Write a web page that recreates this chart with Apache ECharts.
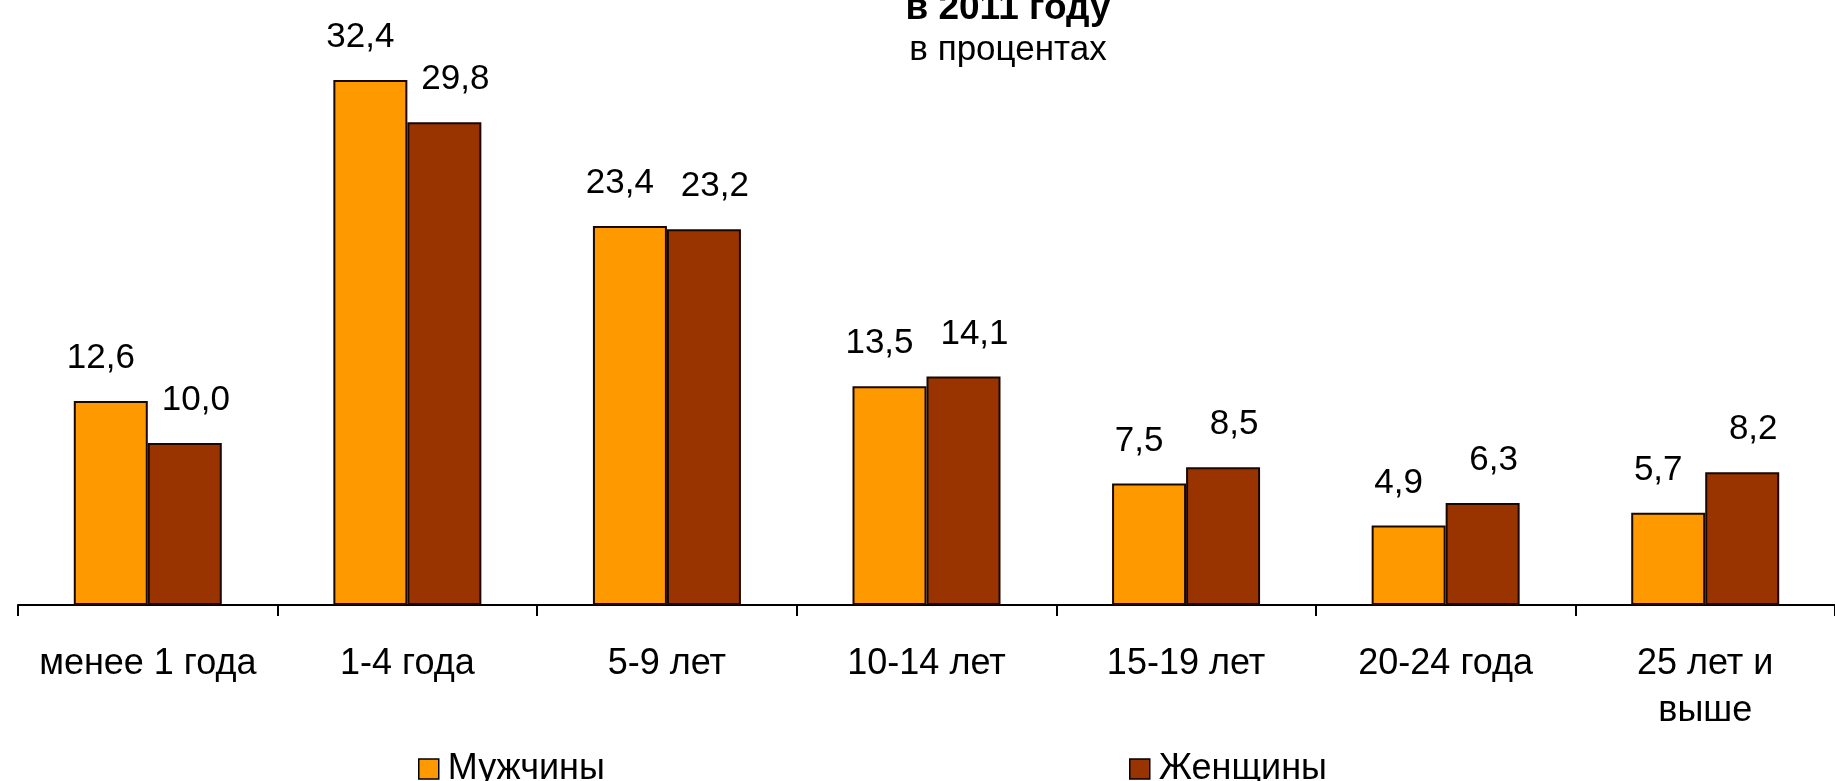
<!DOCTYPE html>
<html><head><meta charset="utf-8">
<script src="https://cdn.jsdelivr.net/npm/echarts@6/dist/echarts.min.js"></script>
<style>html,body{margin:0;padding:0;background:#fff}#c{width:1835px;height:781px}</style>
</head><body><div id="c"></div>
<script>
const categories = ['менее 1 года', '1-4 года', '5-9 лет', '10-14 лет', '15-19 лет', '20-24 года', '25 лет и\nвыше'];
const men = [12.6, 32.4, 23.4, 13.5, 7.5, 4.9, 5.7];
const women = [10.0, 29.8, 23.2, 14.1, 8.5, 6.3, 8.2];
const seriesNames = ['Мужчины', 'Женщины'];
const titleText = 'в 2011 году';
const subtitleText = 'в процентах';

const FONT = '"Liberation Sans", Arial, sans-serif';
const fmt = p => p.value.toFixed(1).replace('.', ',');
const chart = echarts.init(document.getElementById('c'), null, {renderer: 'canvas'});
chart.setOption({
  backgroundColor: '#fff',
  animation: false,
  title: [
    {text: titleText, left: 1008, textAlign: 'center', top: -10, padding: 0,
     textStyle: {fontFamily: FONT, fontSize: 37, fontWeight: 'bold', color: '#000'}},
    {text: subtitleText, left: 1008, textAlign: 'center', top: 33, padding: 0,
     textStyle: {fontFamily: FONT, fontSize: 35, fontWeight: 'normal', color: '#000'}}
  ],
  legend: [
    {data: [seriesNames[0]], left: 418, top: 751, padding: 0, icon: 'rect', itemWidth: 20, itemHeight: 20,
     itemGap: 0, textStyle: {fontFamily: FONT, fontSize: 36, color: '#000', lineHeight: 36, padding: [0,0,0,4]},
     itemStyle: {borderColor: '#000', borderWidth: 1.5}},
    {data: [seriesNames[1]], left: 1129, top: 751, padding: 0, icon: 'rect', itemWidth: 20, itemHeight: 20,
     itemGap: 0, textStyle: {fontFamily: FONT, fontSize: 36, color: '#000', lineHeight: 36, padding: [0,0,0,4]},
     itemStyle: {borderColor: '#000', borderWidth: 1.5}}
  ],
  grid: {left: 18, top: 38, width: 1823.5, height: 567, containLabel: false},
  xAxis: {
    type: 'category', data: categories,
    axisLine: {lineStyle: {color: '#000', width: 2}},
    axisTick: {show: true, length: 11, lineStyle: {color: '#000', width: 2}},
    axisLabel: {fontFamily: FONT, fontSize: 36, color: '#000', margin: 36, lineHeight: 47, interval: 0}
  },
  yAxis: {type: 'value', min: 0, max: 35, show: false, splitLine: {show: false}},
  series: [
    {name: seriesNames[0], type: 'bar', data: men, barWidth: 74, barGap: '0%',
     itemStyle: {color: '#FF9900', borderColor: '#1a0800', borderWidth: 2},
     label: {show: true, position: 'top', distance: 25, offset: [-10, 0], formatter: fmt,
             fontFamily: FONT, fontSize: 35, color: '#000'}},
    {name: seriesNames[1], type: 'bar', data: women, barWidth: 74, barGap: '0%',
     itemStyle: {color: '#993300', borderColor: '#1a0800', borderWidth: 2},
     label: {show: true, position: 'top', distance: 25, offset: [11, 0], formatter: fmt,
             fontFamily: FONT, fontSize: 35, color: '#000'}}
  ]
});
</script></body></html>
